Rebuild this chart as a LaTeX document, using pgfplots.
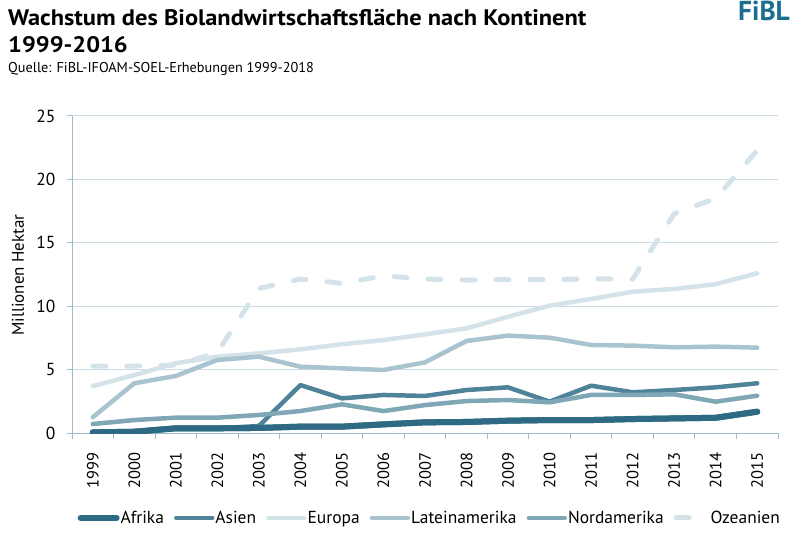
\documentclass[border=0pt]{standalone}
\usepackage{fontspec}
\setmainfont{PT Sans}
\newfontfamily\titlefont[FakeStretch=1.09]{PT Sans}
\usepackage{pgfplots}
\pgfplotsset{compat=1.18}

\definecolor{cAfr}{HTML}{2E6A84}
\definecolor{cAsi}{HTML}{4E8399}
\definecolor{cEur}{HTML}{D4E3E9}
\definecolor{cLat}{HTML}{A9C4CF}
\definecolor{cNor}{HTML}{80A7B6}
\definecolor{cOze}{HTML}{D4E3E9}
\definecolor{axline}{HTML}{9DBBC8}
\definecolor{gridc}{HTML}{CADBE3}
\definecolor{fibl}{HTML}{1B6E8E}

% Mio. ha, 1999..2015 (x = 0..16)
\pgfplotstableread{
x afr asi eur lat nor oze
0  0.05 0.05 3.70 1.24 0.71 5.28
1  0.10 0.10 4.57 3.92 1.02 5.28
2  0.37 0.35 5.50 4.50 1.21 5.35
3  0.37 0.37 6.02 5.76 1.21 6.35
4  0.40 0.55 6.28 6.02 1.42 11.40
5  0.50 3.78 6.60 5.23 1.73 12.14
6  0.50 2.73 7.00 5.10 2.26 11.80
7  0.68 3.00 7.33 4.97 1.73 12.40
8  0.84 2.92 7.78 5.57 2.20 12.14
9  0.87 3.39 8.25 7.26 2.52 12.06
10 0.97 3.60 9.17 7.68 2.60 12.10
11 1.02 2.47 10.04 7.52 2.42 12.10
12 1.02 3.73 10.57 6.94 3.00 12.15
13 1.10 3.21 11.14 6.89 3.00 12.14
14 1.15 3.39 11.36 6.76 3.05 17.30
15 1.20 3.60 11.73 6.81 2.47 18.50
16 1.68 3.92 12.60 6.73 2.94 22.30
}\datatable

\begin{document}
\begin{tikzpicture}
\path[use as bounding box] (0,0) rectangle (800bp,537bp);

\node[anchor=base west, inner sep=0pt, font=\titlefont\bfseries\fontsize{22.5}{26}\selectfont] at (8bp,511bp) {Wachstum des Biolandwirtschaftsfläche nach Kontinent};
\node[anchor=base west, inner sep=0pt, font=\titlefont\bfseries\fontsize{22.5}{26}\selectfont] at (8bp,484bp) {1999-2016};
\node[anchor=base west, inner sep=0pt, font=\fontsize{14.3}{17}\selectfont] at (8bp,464bp) {Quelle: FiBL-IFOAM-SOEL-Erhebungen 1999-2018};
\node[anchor=base east, inner sep=0pt, text=fibl, font=\bfseries\fontsize{27.5}{30}\selectfont] at (790bp,516bp) {FiBL};
\node[rotate=90, font=\fontsize{17}{20}\selectfont] at (18bp,262bp) {Millionen Hektar};

\begin{axis}[
  at={(72bp,104bp)}, anchor=south west,
  scale only axis, width=706bp, height=317bp,
  xmin=-0.5, xmax=16.5, ymin=0, ymax=25,
  axis x line*=bottom, axis y line*=left,
  axis line style={axline, line width=1pt, -},
  xtick={0,...,16},
  xticklabels={1999,2000,2001,2002,2003,2004,2005,2006,2007,2008,2009,2010,2011,2012,2013,2014,2015},
  minor xtick={-0.5,0.5,...,16.5},
  major x tick style={draw=none},
  minor x tick style={axline, line width=1pt},
  minor tick length=6bp,
  ytick={0,5,...,25},
  y tick style={axline, line width=1pt},
  major tick length=5bp,
  tick align=outside,
  ymajorgrids, major grid style={gridc, line width=1pt},
  /pgf/number format/assume math mode=true,
  yticklabel style={font=\fontsize{17.5}{20}\selectfont, xshift=-8bp},
  xticklabel style={font=\fontsize{16.5}{19}\selectfont, rotate=90, anchor=east, xshift=-11bp},
  every axis plot/.append style={line join=round, line cap=round, mark=none},
  legend columns=6,
  legend style={at={(0.506,-0.268)}, anchor=center, draw=none, fill=none,
    font=\fontsize{17.5}{20}\selectfont,
    /tikz/every odd column/.append style={column sep=0bp},
    /tikz/every even column/.append style={column sep=9bp},
    nodes={inner xsep=1bp}},
  legend image code/.code={\draw[#1] (0bp,0bp) -- (36bp,0bp);},
]
\addplot[cAfr, line width=6bp] table[x=x, y=afr] {\datatable};
\addplot[cAsi, line width=4.5bp] table[x=x, y=asi] {\datatable};
\addplot[cEur, line width=4.5bp] table[x=x, y=eur] {\datatable};
\addplot[cLat, line width=4.5bp] table[x=x, y=lat] {\datatable};
\addplot[cNor, line width=4.5bp] table[x=x, y=nor] {\datatable};
\addplot[cOze, line width=5bp, dash pattern=on 13bp off 21bp, forget plot] table[x=x, y=oze] {\datatable};
% Afrika once more on top of the hidden Asien segment
\addplot[cAfr, line width=6bp, forget plot] table[x=x, y=afr] {\datatable};
% legend sample of the dashed series: a single dash
\addlegendimage{legend image code/.code={\draw[cOze, line width=5bp, line cap=round] (2.5bp,0bp) -- (15.5bp,0bp); \path[draw=none] (0bp,0bp) -- (36bp,0bp);}}
\legend{Afrika, Asien, Europa, Lateinamerika, Nordamerika, Ozeanien}
\end{axis}
\end{tikzpicture}
\end{document}
